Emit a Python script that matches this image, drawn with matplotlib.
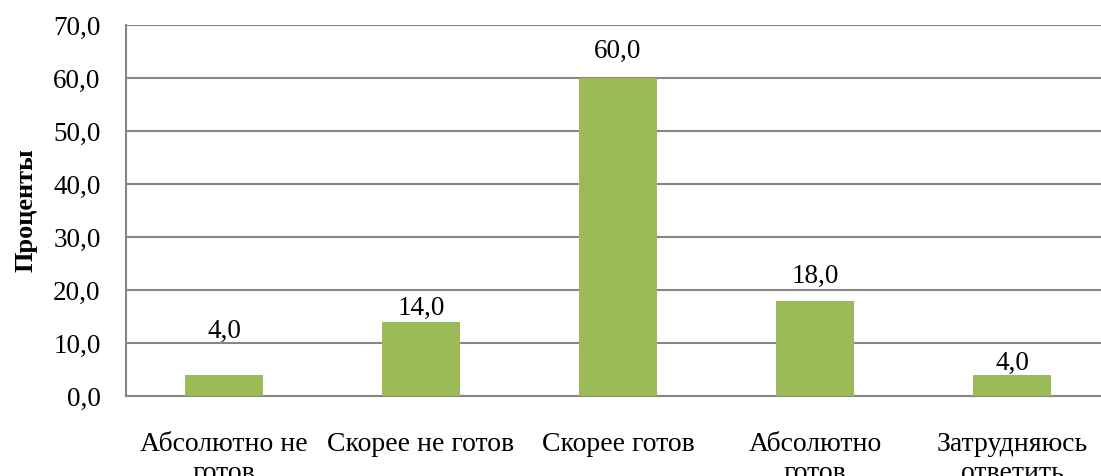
import matplotlib.pyplot as plt
from matplotlib.ticker import FuncFormatter

plt.rcParams['font.family'] = ['Liberation Serif', 'DejaVu Serif']

categories = ['Абсолютно не\nготов', 'Скорее не готов', 'Скорее готов',
              'Абсолютно\nготов', 'Затрудняюсь\nответить']
values = [4.0, 14.0, 60.0, 18.0, 4.0]
# label baseline above the bar top, in data units (labels were nudged by hand)
label_offsets = [6.9, 1.3, 3.8, 3.3, 0.9]

BAR_COLOR = '#9BBB59'
GRID_COLOR = '#868686'

fig = plt.figure(figsize=(11.01, 4.76), dpi=100)
# plot area runs a little past the right edge, as in the reference
ax = fig.add_axes([0.114, 0.168, 0.8946, 0.7795])

x = range(len(categories))
bars = ax.bar(x, values, width=0.4, color=BAR_COLOR, zorder=3)

for b, v, off in zip(bars, values, label_offsets):
    ax.text(b.get_x() + b.get_width() / 2, v + off, f'{v:.1f}'.replace('.', ','),
            ha='center', va='baseline', fontsize=19.5, zorder=4)

ax.set_xlim(-0.5, len(categories) - 0.5)
ax.set_ylim(0, 70)
ax.set_yticks(range(0, 71, 10))
ax.yaxis.set_major_formatter(FuncFormatter(lambda v, p: f'{v:.1f}'.replace('.', ',')))
ax.grid(axis='y', color=GRID_COLOR, linewidth=1.5, zorder=0)

ax.set_xticks(list(x))
ax.set_xticklabels(categories, fontsize=20, linespacing=1.2)
ax.tick_params(axis='x', length=0, pad=26)
ax.tick_params(axis='y', length=0, labelsize=19.5, pad=18)

for s in ['top', 'right']:
    ax.spines[s].set_visible(False)
for s in ['left', 'bottom']:
    ax.spines[s].set_color(GRID_COLOR)
    ax.spines[s].set_linewidth(1.5)

ax.set_ylabel('Проценты', fontsize=19, fontweight='bold')
ax.yaxis.set_label_coords(-0.089, 0.5)

fig.savefig('out.png', dpi=100)
